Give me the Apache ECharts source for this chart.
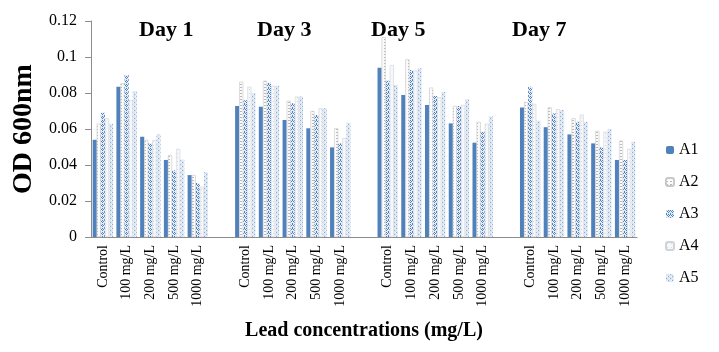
<!DOCTYPE html>
<html>
<head>
<meta charset="utf-8">
<script src="https://cdn.jsdelivr.net/npm/echarts@6/dist/echarts.min.js"></script>
<style>
  html, body { margin: 0; padding: 0; background: #fff; }
  #main { width: 719px; height: 352px; }
</style>
</head>
<body>
<div id="main"></div>
<script>
// categories, with an empty slot between the days
const doses = ['Control', '100 mg/L', '200 mg/L', '500 mg/L', '1000 mg/L'];
const categories = [].concat(doses, [''], doses, [''], doses, [''], doses);
const dayLabels = ['Day 1', 'Day 3', 'Day 5', 'Day 7'];
const yTicks = [0, 0.02, 0.04, 0.06, 0.08, 0.1, 0.12];

// values per series, '-' for the gap slots
const A1 = [0.054, 0.0835, 0.0557, 0.0428, 0.0344, '-',
            0.0728, 0.0724, 0.065, 0.0604, 0.0498, '-',
            0.094, 0.0789, 0.0733, 0.0631, 0.0524, '-',
            0.072, 0.061, 0.057, 0.052, 0.0428];
const A2 = [0.063, 0.0854, 0.054, 0.0456, 0.0344, '-',
            0.0863, 0.0868, 0.0757, 0.070, 0.0604, '-',
            0.111, 0.0987, 0.083, 0.0728, 0.064, '-',
            0.075, 0.072, 0.066, 0.059, 0.0535];
const A3 = [0.069, 0.090, 0.052, 0.037, 0.030, '-',
            0.076, 0.0857, 0.0743, 0.0678, 0.052, '-',
            0.0868, 0.0928, 0.0783, 0.0728, 0.0585, '-',
            0.0835, 0.0687, 0.064, 0.0498, 0.0428];
const A4 = [0.066, 0.076, 0.054, 0.049, 0.028, '-',
            0.0835, 0.084, 0.078, 0.0715, 0.055, '-',
            0.0955, 0.0924, 0.0776, 0.0733, 0.063, '-',
            0.074, 0.071, 0.068, 0.0585, 0.049];
const A5 = [0.063, 0.081, 0.057, 0.043, 0.036, '-',
            0.080, 0.084, 0.078, 0.0715, 0.0635, '-',
            0.0844, 0.0937, 0.0807, 0.0765, 0.067, '-',
            0.0646, 0.0706, 0.064, 0.060, 0.053];

function pattern(w, h, draw){
    let c = document.createElement('canvas');
    c.width = w; c.height = h;
    let ctx = c.getContext('2d');
    draw(ctx);
    return {image: c, repeat: 'repeat'};
}

const patA2 = pattern(4, 3, ctx => {
    ctx.fillStyle = '#fbfbfb'; ctx.fillRect(0, 0, 4, 3);
    ctx.fillStyle = '#b8b8b8'; ctx.fillRect(0, 0, 2, 1);
});
const patA3 = pattern(4, 4, ctx => {
    ctx.fillStyle = '#e4ecf6'; ctx.fillRect(0, 0, 4, 4);
    ctx.fillStyle = '#4f81bd';
    ctx.fillRect(0, 0, 1, 1); ctx.fillRect(1, 1, 1, 1);
    ctx.fillRect(2, 2, 1, 1); ctx.fillRect(3, 1, 1, 1);
    ctx.fillRect(0, 3, 1, 1); ctx.fillRect(2, 0, 1, 1);
});
const patA4 = pattern(4, 4, ctx => {
    ctx.fillStyle = '#f6f7f9'; ctx.fillRect(0, 0, 4, 4);
    ctx.fillStyle = '#d5dbe3'; ctx.fillRect(1, 1, 1, 1);
});
const patA5 = pattern(4, 4, ctx => {
    ctx.fillStyle = '#dbe5f1'; ctx.fillRect(0, 0, 4, 4);
    ctx.fillStyle = '#8eaad0';
    ctx.fillRect(0, 0, 1, 1); ctx.fillRect(2, 2, 1, 1);
    ctx.fillStyle = '#f4f7fb';
    ctx.fillRect(1, 2, 1, 1); ctx.fillRect(3, 0, 1, 1);
});

const serif = 'Liberation Serif';

function bar(name, data, fill, border){
    return {
        name: name,
        type: 'bar',
        data: data,
        barGap: '0%',
        barCategoryGap: '14%',
        itemStyle: {color: fill, borderColor: border, borderWidth: border ? 0.6 : 0}
    };
}

let dayText = dayLabels.map((t, i) => ({
    type: 'text',
    left: [139, 257, 371, 512][i],
    top: 19,
    style: {text: t, fontFamily: serif, fontSize: 22, fontWeight: 'bold', fill: '#000'}
}));

let option = {
    animation: false,
    textStyle: {fontFamily: serif},
    grid: {left: 91, right: 82, top: 21, bottom: 115},
    legend: {
        orient: 'vertical',
        left: 660,
        top: 137,
        itemWidth: 8,
        itemHeight: 8,
        itemGap: 16,
        textStyle: {fontFamily: serif, fontSize: 16, color: '#000'},
        data: ['A1', 'A2', 'A3', 'A4', 'A5']
    },
    xAxis: {
        type: 'category',
        data: categories,
        name: 'Lead concentrations (mg/L)',
        nameLocation: 'middle',
        nameGap: 84,
        nameTextStyle: {fontFamily: serif, fontSize: 20, fontWeight: 'bold', color: '#000'},
        axisLine: {lineStyle: {color: '#8c8c8c'}},
        axisTick: {length: 5, lineStyle: {color: '#8c8c8c'}},
        axisLabel: {
            rotate: 90, interval: 0, margin: 8,
            formatter: v => v ? '{t|' + v + '}' : '',
            rich: {t: {fontFamily: serif, fontSize: 14, color: '#000'}}
        }
    },
    yAxis: {
        type: 'value',
        min: 0,
        max: 0.12,
        interval: 0.02,
        name: 'OD 600nm',
        nameLocation: 'middle',
        nameGap: 50,
        nameTextStyle: {fontFamily: serif, fontSize: 28, fontWeight: 'bold', color: '#000'},
        axisLine: {show: true, lineStyle: {color: '#8c8c8c'}},
        axisTick: {show: true, inside: false, length: 6, lineStyle: {color: '#8c8c8c'}},
        splitLine: {show: false},
        axisLabel: {
            margin: 14,
            formatter: v => yTicks.includes(v) ? '{t|' + v + '}' : '',
            rich: {t: {fontFamily: serif, fontSize: 16, color: '#000'}}
        }
    },
    graphic: dayText,
    series: [
        bar('A1', A1, '#4f81bd', null),
        bar('A2', A2, patA2, '#c8c8c8'),
        bar('A3', A3, patA3, null),
        bar('A4', A4, patA4, '#d0d4da'),
        bar('A5', A5, patA5, null)
    ]
};

var chart = echarts.init(document.getElementById('main'));
chart.setOption(option);
</script>
</body>
</html>
